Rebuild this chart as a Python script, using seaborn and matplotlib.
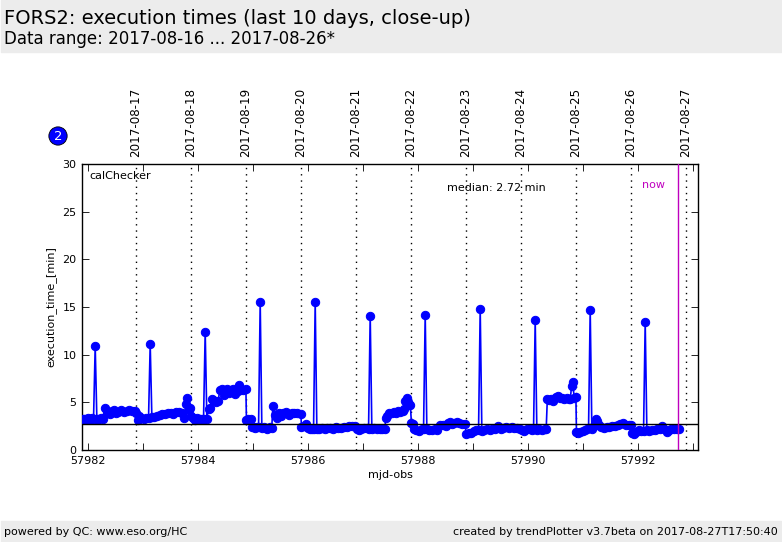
import matplotlib
matplotlib.use('Agg')
import matplotlib.pyplot as plt
import seaborn as sns
from matplotlib.patches import Rectangle
from matplotlib.ticker import MultipleLocator, FormatStrFormatter

sns.set_style('ticks')

mjd_obs = [
    57981.90, 57981.93, 57981.96, 57981.99, 57982.02, 57982.05, 57982.08, 57982.10, 57982.13, 57982.16, 57982.19, 57982.23, 57982.27, 57982.31, 57982.35, 57982.39, 57982.43, 57982.47, 57982.51, 57982.55, 57982.60, 57982.65, 57982.70, 57982.75, 57982.80, 57982.85, 57982.88,
    57982.90, 57982.93, 57982.97, 57983.01, 57983.05, 57983.10, 57983.13, 57983.16, 57983.20, 57983.25, 57983.30, 57983.35, 57983.40, 57983.45, 57983.50, 57983.55, 57983.60, 57983.65, 57983.70, 57983.75, 57983.78, 57983.80, 57983.83, 57983.85, 57983.88,
    57983.91, 57983.95, 57983.98, 57984.03, 57984.07, 57984.10, 57984.13, 57984.16, 57984.19, 57984.22, 57984.25, 57984.28, 57984.32, 57984.36, 57984.40, 57984.44, 57984.48, 57984.52, 57984.56, 57984.60, 57984.64, 57984.68, 57984.72, 57984.75, 57984.78, 57984.82, 57984.87,
    57984.88, 57984.91, 57984.96, 57984.98, 57985.01, 57985.04, 57985.07, 57985.10, 57985.13, 57985.16, 57985.20, 57985.25, 57985.30, 57985.34, 57985.36, 57985.39, 57985.43, 57985.47, 57985.51, 57985.55, 57985.60, 57985.65, 57985.70, 57985.75, 57985.80, 57985.87,
    57985.88, 57985.92, 57985.96, 57986.00, 57986.04, 57986.07, 57986.10, 57986.13, 57986.16, 57986.20, 57986.25, 57986.30, 57986.35, 57986.40, 57986.45, 57986.50, 57986.55, 57986.60, 57986.65, 57986.70, 57986.75, 57986.80, 57986.85,
    57986.89, 57986.93, 57986.97, 57987.02, 57987.07, 57987.10, 57987.13, 57987.16, 57987.20, 57987.25, 57987.30, 57987.35, 57987.40, 57987.41, 57987.44, 57987.48, 57987.52, 57987.56, 57987.60, 57987.64, 57987.68, 57987.72, 57987.75, 57987.77, 57987.79, 57987.81, 57987.83, 57987.86,
    57987.88, 57987.90, 57987.93, 57987.97, 57988.02, 57988.07, 57988.10, 57988.13, 57988.16, 57988.20, 57988.25, 57988.30, 57988.35, 57988.40, 57988.45, 57988.50, 57988.54, 57988.58, 57988.62, 57988.66, 57988.70, 57988.75, 57988.80, 57988.85,
    57988.88, 57988.92, 57988.96, 57989.01, 57989.06, 57989.10, 57989.13, 57989.16, 57989.20, 57989.25, 57989.30, 57989.35, 57989.40, 57989.45, 57989.50, 57989.55, 57989.60, 57989.65, 57989.70, 57989.75, 57989.80, 57989.85,
    57989.89, 57989.93, 57989.98, 57990.03, 57990.07, 57990.10, 57990.13, 57990.16, 57990.20, 57990.25, 57990.30, 57990.33, 57990.35, 57990.38, 57990.42, 57990.46, 57990.50, 57990.54, 57990.58, 57990.62, 57990.66, 57990.70, 57990.74, 57990.77, 57990.79, 57990.81, 57990.84, 57990.87,
    57990.88, 57990.91, 57990.95, 57990.99, 57991.03, 57991.07, 57991.10, 57991.13, 57991.16, 57991.19, 57991.22, 57991.24, 57991.26, 57991.29, 57991.33, 57991.38, 57991.43, 57991.48, 57991.53, 57991.58, 57991.63, 57991.68, 57991.73, 57991.78, 57991.83, 57991.87,
    57991.89, 57991.93, 57991.97, 57992.02, 57992.06, 57992.10, 57992.13, 57992.16, 57992.20, 57992.25, 57992.30, 57992.35, 57992.40, 57992.44, 57992.48, 57992.52, 57992.56, 57992.60, 57992.65, 57992.70, 57992.75,
]
execution_time = [
    3.2, 3.3, 3.3, 3.4, 3.3, 3.3, 3.4, 3.3, 10.9, 3.3, 3.3, 3.4, 3.3, 4.4, 3.9, 3.8, 4.1, 4.2, 3.9, 4.0, 4.2, 4.0, 4.1, 4.2, 4.1, 4.1, 3.9,
    3.1, 3.6, 3.4, 3.3, 3.4, 3.4, 11.1, 3.5, 3.5, 3.6, 3.7, 3.8, 3.8, 3.9, 3.9, 3.8, 4.0, 4.0, 3.9, 3.4, 4.8, 5.5, 4.2, 4.4, 3.6,
    3.4, 3.1, 3.4, 3.3, 3.3, 3.3, 12.4, 3.3, 4.3, 4.4, 5.3, 5.2, 5.0, 5.1, 6.3, 6.4, 5.8, 6.4, 6.0, 6.3, 6.4, 5.9, 6.2, 6.8, 6.4, 6.3, 6.4,
    3.1, 3.2, 3.2, 2.4, 2.4, 2.3, 2.4, 2.4, 15.5, 2.3, 2.4, 2.2, 2.4, 2.3, 4.6, 3.7, 3.4, 3.9, 3.6, 3.9, 4.0, 3.7, 3.9, 3.9, 3.9, 3.8,
    2.4, 2.5, 2.7, 2.3, 2.2, 2.2, 2.2, 15.5, 2.2, 2.2, 2.3, 2.2, 2.3, 2.3, 2.2, 2.4, 2.3, 2.3, 2.4, 2.4, 2.5, 2.5, 2.5,
    2.2, 2.1, 2.2, 2.3, 2.3, 2.2, 14.1, 2.2, 2.3, 2.2, 2.2, 2.2, 2.2, 3.4, 3.6, 3.9, 3.9, 4.0, 3.9, 4.1, 4.0, 4.1, 4.3, 5.1, 5.5, 5.0, 4.7, 4.7,
    2.8, 2.7, 2.2, 2.1, 2.0, 2.2, 2.2, 14.2, 2.2, 2.1, 2.1, 2.2, 2.1, 2.6, 2.6, 2.5, 2.8, 2.9, 2.7, 2.8, 2.9, 2.8, 2.7, 2.7,
    1.7, 1.8, 1.8, 2.0, 2.1, 2.1, 14.8, 2.0, 2.1, 2.2, 2.1, 2.2, 2.2, 2.5, 2.2, 2.3, 2.4, 2.3, 2.4, 2.3, 2.3, 2.2,
    2.1, 2.0, 2.2, 2.2, 2.1, 2.2, 13.6, 2.1, 2.2, 2.1, 2.2, 2.2, 5.3, 5.2, 5.3, 5.1, 5.6, 5.7, 5.5, 5.5, 5.4, 5.5, 5.4, 5.4, 6.7, 7.1, 5.5, 5.6,
    1.9, 1.8, 1.9, 2.0, 2.1, 2.2, 2.3, 14.7, 2.2, 2.5, 2.7, 3.3, 3.0, 2.6, 2.4, 2.3, 2.4, 2.4, 2.5, 2.5, 2.6, 2.7, 2.8, 2.6, 2.6, 2.6,
    1.8, 1.7, 1.9, 2.1, 2.0, 2.0, 13.4, 2.1, 2.0, 2.1, 2.1, 2.2, 2.2, 2.5, 2.2, 1.9, 2.1, 2.2, 2.2, 2.2, 2.2,
]
date_labels = ['2017-08-17', '2017-08-18', '2017-08-19', '2017-08-20', '2017-08-21', '2017-08-22',
               '2017-08-23', '2017-08-24', '2017-08-25', '2017-08-26', '2017-08-27']
date_mjd = [57982.88, 57983.88, 57984.88, 57985.88, 57986.88, 57987.88,
            57988.88, 57989.88, 57990.88, 57991.88, 57992.88]
median_value = 2.72
now_mjd = 57992.72

fig = plt.figure(figsize=(7.82, 5.42), dpi=100)
fig.patches.append(Rectangle((1 / 782, 490 / 542), 780 / 782, 52 / 542, transform=fig.transFigure, color='#ececec', zorder=-1))
fig.patches.append(Rectangle((1 / 782, 0), 780 / 782, 21 / 542, transform=fig.transFigure, color='#ececec', zorder=-1))

ax = fig.add_axes([82 / 782, 92 / 542, 616 / 782, 286 / 542])
sns.lineplot(x=mjd_obs, y=execution_time, ax=ax, color='b', marker='o', markersize=6,
             markeredgecolor='b', linewidth=1.2, sort=False, estimator=None, zorder=3)

for d, lab in zip(date_mjd, date_labels):
    ax.axvline(d, color='k', ls=(0, (1, 3.5)), lw=1, zorder=1)
    ax.text(d - 0.01, 30.7, lab, rotation=90, ha='center', va='bottom', fontsize=8.6, color='k')

ax.axhline(median_value, color='k', lw=1, zorder=4)
ax.axvline(now_mjd, color='m', lw=1, zorder=4)

ax.set_xlim(57981.89, 57993.09)
ax.set_ylim(0, 30)
ax.xaxis.set_major_locator(MultipleLocator(2))
ax.xaxis.set_major_formatter(FormatStrFormatter('%d'))
ax.xaxis.set_minor_locator(MultipleLocator(1))
ax.yaxis.set_major_locator(MultipleLocator(5))
ax.tick_params(axis='both', which='both', direction='in', top=True, right=True, length=5, width=0.6,
               labelsize=8, pad=4, color='k', labelcolor='k')
for s in ax.spines.values():
    s.set_visible(True)
    s.set_linewidth(1)
    s.set_color('k')
ax.set_xlabel('mjd-obs', fontsize=8, labelpad=3, color='k')
ax.set_ylabel('execution_time_[min]', fontsize=8, labelpad=4, color='k')

ax.text(57982.02, 28.7, 'calChecker', fontsize=8, va='center', color='k')
ax.text(57990.32, 27.5, 'median: 2.72 min', fontsize=8, ha='right', va='center', color='k')
ax.text(57992.28, 27.8, 'now', fontsize=8, color='m', ha='center', va='center')

fig.text(4 / 782, 524 / 542, 'FORS2: execution times (last 10 days, close-up)', fontsize=14, va='center', color='k')
fig.text(4 / 782, 503 / 542, 'Data range: 2017-08-16 ... 2017-08-26*', fontsize=12, va='center', color='k')
fig.text(4 / 782, 10 / 542, 'powered by QC: www.eso.org/HC', fontsize=8, va='center', color='k')
fig.text(778 / 782, 10 / 542, 'created by trendPlotter v3.7beta on 2017-08-27T17:50:40', fontsize=8, va='center', ha='right', color='k')
fig.text(58 / 782, 406 / 542, '2', fontsize=9.5, color='w', ha='center', va='center',
         bbox=dict(boxstyle='circle,pad=0.2', fc='b', ec='k', lw=0.6))

fig.savefig('out.png', dpi=100)
